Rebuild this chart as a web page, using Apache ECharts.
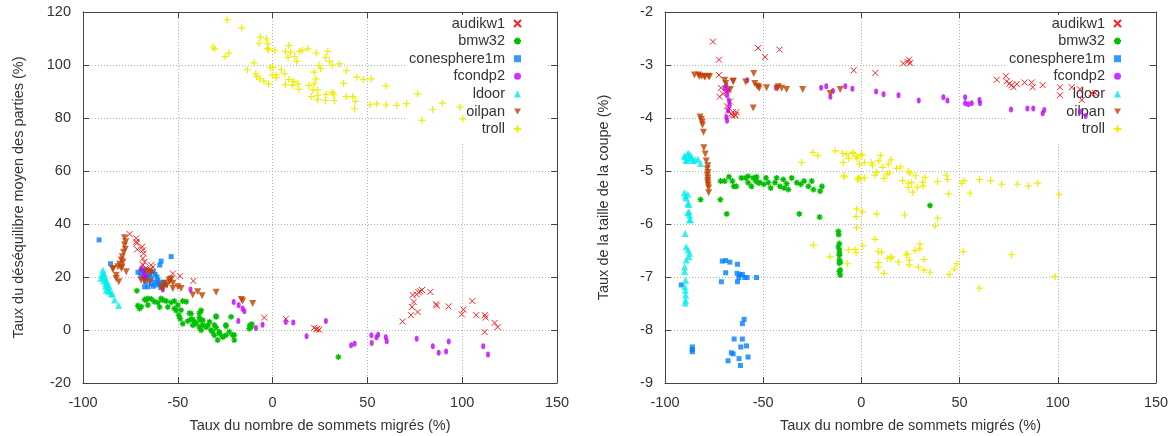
<!DOCTYPE html>
<html><head><meta charset="utf-8">
<script src="https://cdn.jsdelivr.net/npm/echarts@6/dist/echarts.min.js"></script>
<style>html,body{margin:0;padding:0;background:#fff}#c{width:1171px;height:436px}</style>
</head><body><div id="c"></div>
<script>
// ---------- tick settings ----------
const xTicks = { min: -100, max: 150, interval: 50 };
const yTicksBalance = { min: -20, max: 120, interval: 20 };
const yTicksCut = { min: -9, max: -2, interval: 1 };
const seriesNames = ['audikw1', 'bmw32', 'conesphere1m', 'fcondp2', 'ldoor', 'oilpan', 'troll'];
const xTitle = 'Taux du nombre de sommets migrés (%)';
const yTitleBalance = 'Taux du déséquilibre moyen des parties (%)';
const yTitleCut = 'Taux de la taille de la coupe (%)';

// ---------- left panel: balance ----------
const audikw1Balance = [[-75.4,36.2],[-71.9,34.6],[-71.9,33.3],[-71.6,32.7],[-71.4,30.4],[-68.8,31.4],[-68.4,30.1],[-68.1,28.9],[-68.4,27],[-67.5,25.7],[-68.4,24.5],[-67,23.2],[-64,24.5],[-64.9,22.6],[-65.8,21.1],[-69.3,21.9],[-68.4,20],[-63.2,23.8],[-52.6,21.3],[-48.8,20.3],[-41.8,18.5],[-4.4,4.7],[7,4.2],[21.9,0.8],[23.7,0.5],[24.6,0.1],[23,0.3],[68.6,3.2],[73,5.6],[73.5,8.7],[74.4,10.6],[73.9,13.2],[76,13.4],[76.5,6.8],[77,14.2],[78.8,15.1],[77.8,14.6],[83.2,14.4],[86.2,9.7],[86.6,9.2],[92.8,8.9],[99.8,5.9],[100.7,7.7],[105.3,10.9],[107.4,5.6],[112,5.6],[112.4,4.7],[111.8,-0.8],[117.1,2.7],[118.7,1.1]];
const bmw32Balance = [[-71.6,14.8],[-71.1,9.2],[-69.3,8.8],[-66.7,11.3],[-65.8,9.4],[-64,11.7],[-62.3,10.7],[-60.5,10.4],[-70.2,8.1],[-65.8,11.9],[-67.5,11.5],[-59.6,8.7],[-58.8,11.9],[-57.9,11.3],[-56.1,10.9],[-55.3,8.7],[-53.5,10.4],[-51.8,10.9],[-50,9.4],[-47.4,10.9],[-45.6,10.7],[-51.8,8.1],[-50.9,7.4],[-49.5,5.5],[-48.8,4.3],[-47.4,2.4],[-48.3,7.5],[-43.9,6.3],[-43,4.1],[-41.2,3.1],[-38.6,6.3],[-38.3,3.7],[-36.9,1.9],[-33.3,3.1],[-30.7,1.9],[-29.8,5],[-32.5,0],[-28.1,-1.3],[-26.3,-2.5],[-24.6,1.9],[-22.8,-0.7],[-20.2,-1.9],[-20.2,-3.8],[-29,-3.8],[-43,6.2],[-44.7,3.4],[-42.1,1.8],[-40.4,2.4],[-38.6,1.1],[-37.7,7.4],[-38.6,4.7],[-36.8,3.7],[-35.1,1.1],[-31.6,-0.8],[-30.7,-2],[-29.8,0.9],[-28.1,-0.8],[-26.3,-2.6],[-24.6,1.4],[-24.6,-2],[-21.1,-2],[-29.8,5.2],[-34.2,1.8],[-37.7,-0.1],[-42.1,3.9],[-21.9,5],[-11.9,1.8],[-11.4,1.1],[-12.3,0.5],[-11,2.2],[34.7,-10.2]];
const conesphere1mBalance = [[-91.5,34],[-85.5,25],[-53.5,27.7],[-58.8,26],[-59.5,24.5],[-71,21.8],[-69,22.5],[-67.5,22.6],[-65,21],[-63,22],[-62,21],[-61,20],[-64,19.4],[-67,18.2],[-67.5,16.3],[-65.8,16.3],[-64,17.5],[-62,18],[-60.5,18.8],[-59.5,17.8],[-58,16.9],[-59,16],[-56.5,17],[-63,16.5],[-61,17],[-66,20],[-69.5,20.5],[-57.5,18]];
const fcondp2Balance = [[-69.3,23.2],[-67.5,21.9],[-67.5,19.4],[-66.7,20],[-68.1,20.7],[-57.9,15.3],[-43.3,15.3],[-20.5,10.6],[-17.9,9.3],[-15.8,8.1],[-14.9,7.1],[-18.1,3.4],[-8.8,0.8],[-5.3,2],[7,3],[10.9,2.8],[17.9,-2.4],[28.1,3.4],[41.4,-5.8],[43.3,-5.2],[52.1,-2],[52.3,-4.9],[54.8,-2.7],[55.7,-1.8],[59.7,-2.7],[60.2,-4.2],[76,-3.3],[84.5,-6.1],[87.6,-8.6],[91.5,-8.1],[92.9,-4.3],[111.1,-6.1],[113.6,-9.2]];
const ldoorBalance = [[-90,21],[-89.5,22.6],[-89,20.5],[-90.4,19.5],[-89,18.5],[-88.5,19.5],[-88,17.5],[-87.5,18.5],[-88,16.5],[-87.7,15],[-87,16],[-86.5,15],[-86,14.5],[-84.6,13.8],[-85,13.5],[-83.3,11.3],[-81.2,9.2],[-89.5,20],[-88.8,21.2],[-87,17.2],[-86.2,16.4]];
const oilpanBalance = [[-78.1,34.8],[-77.5,33.3],[-78.1,32.1],[-77.7,30.5],[-78.6,29.3],[-79.3,27.6],[-79.8,26.4],[-79.5,23.8],[-78.9,25.7],[-84.2,23.2],[-81.6,23.9],[-80.7,24.8],[-79.8,23.2],[-77.2,22],[-82.5,20.7],[-81.1,18.2],[-84.2,22.8],[-82.5,19.4],[-64.9,22.2],[-64,21.4],[-66.7,22],[-69.3,18.8],[-67.5,18.4],[-64.9,18.2],[-58.8,16.3],[-57,17.6],[-54.4,18.2],[-53.5,19.2],[-52.6,17.6],[-52.6,15.7],[-50,16.3],[-48.3,15.7],[-57.9,15.7],[-54.4,19],[-55.8,16.9],[-42.1,13.2],[-39.5,14.4],[-37.2,12.9],[-29.8,14.2],[-15.8,10.9],[-10.5,10],[-16.5,11.5]];
const trollBalance = [[-24,117.1],[-16.2,114],[-30.5,106.1],[-25,103.2],[-23,104.5],[-6.5,110.5],[-3.3,109.9],[-7.2,108.2],[-2.5,108],[-2.8,106.3],[-2.1,105.7],[1.1,105.5],[8.6,107.4],[6.8,105.1],[9.5,104.8],[8.1,102.9],[11.6,103.2],[14.2,105.1],[15.6,105.5],[18.6,106.1],[12.8,101.4],[23,104.5],[29.1,105.1],[27.9,102.9],[30,101.4],[31.4,100],[35.3,100.4],[38.8,97.9],[44.4,95.4],[47.9,94.5],[52.1,94.8],[59.8,92.1],[76.5,89.1],[89.6,85.6],[84.4,83.2],[78.8,79.1],[100.2,79.7],[98.8,84.1],[51.4,85],[54.9,85.3],[59.8,84.9],[65.4,84.8],[70.6,85.4],[43.2,83.5],[-9.8,100.8],[-13.3,98.2],[-8.9,96.7],[-8.3,95.7],[-6.8,94.8],[-4.6,93.9],[-2.1,92.9],[-1.1,99],[0.2,99.1],[-0.2,96.2],[1.9,96.2],[1.9,95.2],[4.6,98.2],[6.3,96.7],[8.6,94.5],[11.2,93.8],[13.3,92.9],[10.4,92.3],[6.8,92.6],[13.8,90.8],[19.1,92.3],[21.2,90.6],[23.8,90.6],[20.4,88.1],[23.8,88.5],[23.8,86.9],[28.2,88.9],[27.9,86.6],[31.4,89.7],[32.1,89],[32.6,86.6],[38.8,88.1],[42.3,88.1],[43.7,86.3],[21.9,97.3],[24.5,99.8],[25.4,98.6],[22.9,94.8],[21.9,92.9],[37.4,93.1],[-31.6,106.8]];

// ---------- right panel: cut ----------
const audikw1Cut = [[-75.6,-2.56],[-72.5,-2.9],[-52.6,-2.68],[-49,-2.85],[-41.7,-2.71],[-72.5,-3.19],[-71.5,-3.43],[-72.2,-3.6],[-70.5,-3.54],[-68.8,-3.51],[-67.8,-3.47],[-66.9,-3.69],[-68.4,-3.78],[-67.9,-3.86],[-66.2,-3.92],[-65.4,-3.89],[-64,-3.95],[-63.7,-3.89],[-65.7,-3.95],[-64.4,-3.94],[-3.9,-3.1],[7.1,-3.15],[21.3,-2.97],[23.4,-2.94],[24.2,-2.9],[24.8,-2.96],[68.9,-3.28],[73.5,-3.21],[74,-3.31],[75.3,-3.35],[76.5,-3.38],[77.4,-3.42],[79.1,-3.36],[83,-3.33],[86.7,-3.33],[87.2,-3.42],[92.3,-3.38],[101.1,-3.42],[101.1,-3.57],[107.1,-3.42],[111.3,-3.46],[112.2,-3.66],[117.3,-3.53],[119,-3.53]];
const bmw32Cut = [[-71.7,-5.19],[-69.6,-5.19],[-67.4,-5.11],[-65.7,-5.19],[-65,-5.29],[-63.7,-5.29],[-61.1,-5.13],[-58.9,-5.13],[-57.7,-5.22],[-56,-5.29],[-53.8,-5.19],[-53.4,-5.11],[-51.7,-5.22],[-49.7,-5.25],[-47.4,-5.22],[-46.2,-5.32],[-44,-5.22],[-41.5,-5.29],[-39.4,-5.32],[-38.1,-5.24],[-35.5,-5.13],[-32.9,-5.22],[-30.9,-5.25],[-29.2,-5.19],[-27,-5.29],[-25.3,-5.19],[-24.4,-5.35],[-21,-5.38],[-20.1,-5.29],[-57.7,-5.1],[-55.1,-5.13],[-52.5,-5.22],[-48.6,-5.13],[-43.2,-5.13],[-39.8,-5.16],[-37.2,-5.35],[-81.9,-5.54],[-71.8,-5.54],[-68.6,-5.81],[-31.6,-5.81],[-21.3,-5.87],[-11.7,-6.14],[-11.6,-6.2],[-11.2,-6.37],[-11.7,-6.43],[-11.2,-6.49],[-11.2,-6.55],[-11.2,-6.59],[-11.2,-6.68],[-10.8,-6.72],[-11.2,-6.74],[-10.8,-6.87],[-11.2,-6.9],[-10.8,-6.96],[34.9,-5.65]];
const conesphere1mCut = [[-91.7,-7.15],[-86.1,-8.32],[-86.1,-8.41],[-86.1,-8.37],[-70.8,-6.7],[-69.1,-6.69],[-67,-6.72],[-69.1,-6.92],[-71.3,-7.09],[-63.1,-6.76],[-63.3,-6.93],[-61.9,-6.96],[-62.4,-7.01],[-63.1,-7.09],[-59.4,-7.01],[-60.6,-6.95],[-58.2,-7.01],[-53.4,-7.01],[-59.7,-7.8],[-60.6,-7.88],[-64.8,-8.17],[-60.6,-8.17],[-61.4,-8.32],[-58.5,-8.3],[-66.2,-8.43],[-65.3,-8.45],[-67.9,-8.58],[-62.3,-8.54],[-61.6,-8.67],[-57.7,-8.51]];
const fcondp2Cut = [[-58.2,-3.29],[-68.8,-3.38],[-69.6,-3.44],[-67.9,-3.48],[-68.4,-3.57],[-67.4,-3.67],[-67.1,-3.76],[-67.9,-3.86],[-68.8,-3.98],[-68.4,-4.05],[-43.5,-3.43],[-20.5,-3.43],[-17.9,-3.4],[-14.5,-3.49],[-15.8,-3.6],[-8.2,-3.4],[-4.6,-3.45],[7.5,-3.5],[11.3,-3.55],[18.9,-3.57],[29.2,-3.67],[41.7,-3.61],[43.8,-3.67],[52.8,-3.61],[52.8,-3.72],[54.4,-3.74],[56.2,-3.72],[60.1,-3.66],[60.4,-3.72],[76.2,-3.84],[84.5,-3.82],[87.5,-3.82],[93.1,-3.85],[92.3,-3.91],[111.3,-3.88],[114.2,-3.96]];
const ldoorCut = [[-90.1,-4.71],[-88.4,-4.68],[-87.5,-4.75],[-89.2,-4.8],[-85.8,-4.8],[-83.3,-4.78],[-81.9,-4.86],[-89.8,-4.73],[-88.1,-4.67],[-86.4,-4.76],[-84.7,-4.79],[-89,-4.79],[-87,-4.7],[-90.1,-5.41],[-88.4,-5.44],[-89.2,-5.51],[-89.6,-5.47],[-87.9,-5.63],[-88.4,-5.79],[-87.5,-5.92],[-88.3,-5.61],[-87.8,-5.77],[-87.5,-5.83],[-87.1,-5.92],[-89.7,-6.18],[-89.2,-6.43],[-88.3,-6.49],[-87.5,-6.55],[-87.8,-6.62],[-89.2,-6.68],[-90,-6.81],[-90,-6.9],[-89.5,-7.06],[-90,-7.18],[-89.7,-7.25],[-89.5,-7.34],[-89.5,-7.44],[-89.7,-7.49]];
const oilpanCut = [[-85,-3.19],[-83,-3.19],[-82.4,-3.21],[-81.3,-3.21],[-79.9,-3.22],[-79.6,-3.22],[-77.9,-3.21],[-77.3,-3.22],[-69.6,-3.29],[-69.1,-3.35],[-65.4,-3.3],[-66.7,-3.46],[-65.2,-3.31],[-58.9,-3.32],[-54.8,-3.16],[-55.1,-3.81],[-54.3,-3.35],[-53.1,-3.4],[-52,-3.44],[-52.5,-3.41],[-48.3,-3.43],[-42.8,-3.44],[-42.3,-3.41],[-40.6,-3.44],[-38.1,-3.46],[-29.9,-3.46],[-15.9,-3.54],[-10.8,-3.46],[-82.1,-3.98],[-81.1,-4.08],[-81.5,-4.03],[-80.9,-4.13],[-80.4,-4.27],[-80.2,-4.56],[-79.5,-4.68],[-79,-4.81],[-78.2,-4.9],[-78.2,-5.03],[-78.2,-5.13],[-78.2,-5.22],[-77.8,-5.32],[-77.8,-5.41],[-78.5,-4.96],[-78.4,-5.08],[-78.3,-5.18],[-78,-5.27]];
const trollCut = [[-24.7,-4.65],[-22.2,-4.71],[-13.3,-4.62],[-30.4,-4.84],[-9.5,-4.67],[-7.5,-4.68],[-4.4,-4.65],[-2.7,-4.73],[-0.2,-4.69],[-9.2,-4.84],[-1,-4.87],[1.5,-4.84],[5.2,-4.84],[5.7,-4.89],[8.8,-4.81],[9.8,-4.71],[13.7,-4.87],[15.1,-4.79],[17.9,-4.95],[20,-4.92],[10.8,-4.93],[7.8,-5.02],[12.9,-5.06],[14.2,-5.04],[6.9,-5.08],[-8.8,-5.09],[-2.1,-5.16],[-0.7,-5.15],[1.5,-5.13],[11.5,-5.14],[23.9,-5.01],[24.8,-5.04],[21,-5.18],[23.9,-5.23],[23.9,-5.31],[25.6,-5.22],[27.6,-5.09],[26.1,-5.4],[28.5,-5.31],[31.5,-5.28],[31.2,-5.21],[32.4,-5.12],[38.8,-5.2],[43.1,-5.08],[43.9,-5.16],[44.3,-5.43],[51.1,-5.23],[52.3,-5.18],[55.3,-5.42],[60.1,-5.16],[65.8,-5.18],[71.4,-5.25],[79.4,-5.25],[85,-5.28],[89.8,-5.23],[100.6,-5.44],[-6.5,-4.76],[-4.3,-4.67],[-2.2,-4.76],[0.3,-4.7],[-8.7,-5.11],[-1.4,-5.13],[-2.4,-5.72],[-2.7,-5.86],[-2.4,-6.07],[0.5,-5.77],[7.8,-5.81],[21.9,-5.83],[38.8,-5.89],[37.5,-6.04],[6.9,-6.29],[0.7,-6.41],[-24.4,-6.4],[-16,-6.62],[-7.2,-6.75],[-6.6,-6.49],[-3.3,-6.48],[-2.7,-6.54],[8.6,-6.52],[10.3,-6.53],[8.6,-6.73],[8.6,-6.82],[11.5,-6.93],[13.4,-6.65],[15.4,-6.62],[14.9,-6.65],[18.8,-6.72],[22.7,-6.58],[23.4,-6.57],[24.4,-6.77],[24.4,-6.68],[27.3,-6.5],[29.8,-6.38],[29.8,-6.47],[31.9,-6.67],[31.9,-6.87],[29,-6.81],[34.9,-6.91],[44.8,-6.95],[47.3,-6.85],[48.5,-6.75],[51.9,-6.52],[60.1,-7.21],[76.5,-6.58],[98.6,-6.99]];

const balanceData = [audikw1Balance, bmw32Balance, conesphere1mBalance, fcondp2Balance, ldoorBalance, oilpanBalance, trollBalance];
const cutData = [audikw1Cut, bmw32Cut, conesphere1mCut, fcondp2Cut, ldoorCut, oilpanCut, trollCut];

// ---------- styling ----------
const FONT = '"Liberation Sans", Arial, sans-serif';
const TEXT = '#333';
const AXIS = '#444';
const marks = [
  { symbol: 'path://M0,0L10,10M10,0L0,10', size: 6, color: '#ff2020', stroke: true, w: 1 },
  { symbol: 'path://M5,0L5,10M0,5L10,5M1.5,1.5L8.5,8.5M8.5,1.5L1.5,8.5', size: 6, color: '#00c000', stroke: true, w: 1.3 },
  { symbol: 'rect', size: 5, color: '#0080ff' },
  { symbol: 'circle', size: [4, 6], color: '#c000ff' },
  { symbol: 'triangle', size: 7, color: '#00eeee' },
  { symbol: 'path://M0,0L10,0L5,8.66Z', size: 7, color: '#c04000' },
  { symbol: 'path://M5,0L5,10M0,5L10,5', size: 7, color: '#eeee00', stroke: true, w: 1.2 }
];

function mkSeries(name, idx, data, gi) {
  const m = marks[idx];
  const itemStyle = m.stroke
    ? { color: 'rgba(0,0,0,0)', borderColor: m.color, borderWidth: m.w, opacity: 1 }
    : { color: m.color, borderWidth: 0 };
  return {
    type: 'scatter', name, data, xAxisIndex: gi * 2, yAxisIndex: gi * 2,
    symbol: m.symbol, symbolSize: m.size, itemStyle, z: 2,
    animation: false, emphasis: { disabled: true }
  };
}

function axisPair(kind, gi, ticks, title, nameGap) {
  const isX = kind === 'x';
  const main = {
    gridIndex: gi, type: 'value', min: ticks.min, max: ticks.max, interval: ticks.interval,
    position: isX ? 'bottom' : 'left',
    axisLine: { show: true, onZero: false, lineStyle: { color: AXIS, width: 1 } },
    axisTick: { show: true, inside: true, length: 6, lineStyle: { color: AXIS, width: 1 } },
    axisLabel: { color: TEXT, fontSize: 14.5, fontFamily: FONT, margin: 12 },
    splitLine: { show: true, lineStyle: { color: '#b0b0b0', width: 1, type: [1, 2] } },
    name: title, nameLocation: 'middle', nameGap,
    nameTextStyle: { color: TEXT, fontSize: 14.5, fontFamily: FONT }
  };
  const mirror = {
    gridIndex: gi, type: 'value', min: ticks.min, max: ticks.max, interval: ticks.interval,
    position: isX ? 'top' : 'right',
    axisLine: { show: true, onZero: false, lineStyle: { color: AXIS, width: 1 } },
    axisTick: { show: true, inside: true, length: 6, lineStyle: { color: AXIS, width: 1 } },
    axisLabel: { show: false }, splitLine: { show: false }
  };
  return [main, mirror];
}

function mkLegend(right) {
  return {
    data: seriesNames, orient: 'vertical', align: 'right', right, top: 15,
    itemWidth: 7, itemHeight: 7, itemGap: 2.6,
    textStyle: { color: TEXT, fontSize: 14.5, fontFamily: FONT, padding: [0, 4, 0, 0] },
    backgroundColor: '#fff', padding: [1, 25, 6, 3], z: 1, selectedMode: false
  };
}

const series = [];
seriesNames.forEach((n, i) => series.push(mkSeries(n, i, balanceData[i], 0)));
seriesNames.forEach((n, i) => series.push(mkSeries(n, i, cutData[i], 1)));

const option = {
  backgroundColor: '#fff',
  animation: false,
  textStyle: { fontFamily: FONT },
  grid: [
    { left: 83, top: 12, width: 474, height: 371, containLabel: false, outerBoundsMode: 'none' },
    { left: 665, top: 12, width: 491, height: 371, containLabel: false, outerBoundsMode: 'none' }
  ],
  xAxis: [...axisPair('x', 0, xTicks, xTitle, 35), ...axisPair('x', 1, xTicks, xTitle, 35)],
  yAxis: [...axisPair('y', 0, yTicksBalance, yTitleBalance, 57), ...axisPair('y', 1, yTicksCut, yTitleCut, 54)],
  legend: [mkLegend(1171 - 547), mkLegend(1171 - 1147)],
  series
};

const chart = echarts.init(document.getElementById('c'), null, { renderer: 'canvas' });
chart.setOption(option);
</script></body></html>
